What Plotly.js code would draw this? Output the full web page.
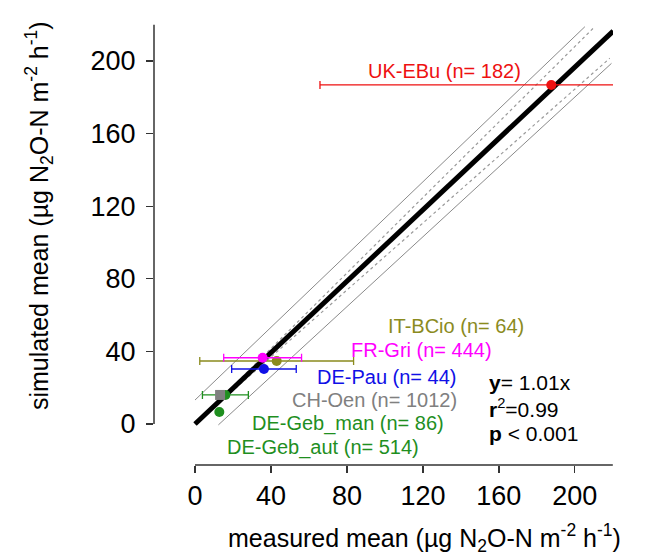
<!DOCTYPE html>
<html>
<head>
<meta charset="utf-8">
<script src="https://cdn.plot.ly/plotly-3.0.1.min.js"></script>
<style>html,body{margin:0;padding:0;background:#fff;}#chart{width:648px;height:558px;}</style>
</head>
<body>
<div id="chart"></div>
<script>
// ---- data ----
const sites      = ["UK-EBu", "IT-BCio", "FR-Gri", "DE-Pau", "CH-Oen", "DE-Geb_man", "DE-Geb_aut"];
const nObs       = [182, 64, 444, 44, 1012, 86, 514];
const measured   = [187.6, 43.0, 35.6, 36.3, 13.2, 16.0, 12.8];
const simulated  = [186.8, 34.7, 36.5, 30.3, 16.0, 16.0, 6.6];
const measuredSD = [121.8, 40.5, 20.5, 17.0, 0, 12.1, 0];
const colors     = ["#ee1111", "#8b8b1e", "#ff00ff", "#1010e6", "#808080", "#1f8f1f", "#1f8f1f"];
const symbols    = ["circle", "circle", "circle", "circle", "square", "circle", "circle"];
// label centres (data units)
const labelX     = [131.6, 137.4, 119.0, 101.0, 94.7, 80.5, 67.4];
const labelY     = [194.5, 54.0, 40.8, 25.9, 13.2, 0.0, -13.2];

// fit line and bands (endpoints)
const fitX   = [0, 220.2];
const fitY   = [0, 216.5];
const upGrayX = [0, 205.3],   upGrayY = [13.2, 218.9];
const loGrayX = [12.3, 219.3], loGrayY = [-0.5, 198.7];
const upDotX  = [0, 210.5],   upDotY  = [0, 218.9];
const loDotX  = [0, 218.4],   loDotY  = [0, 201.5];

const xTicks = [0, 40, 80, 120, 160, 200];
const yTicks = [0, 40, 80, 120, 160, 200];
const statLines = ["<b>y</b>= 1.01x", "<b>r</b><sup>2</sup>=0.99", "<b>p</b> < 0.001"];

const FONT = "Liberation Sans, Arial, sans-serif";
const traces = [];
traces.push({x: upGrayX, y: upGrayY, mode: "lines", line: {color: "#8a8a8a", width: 1}, hoverinfo: "skip"});
traces.push({x: loGrayX, y: loGrayY, mode: "lines", line: {color: "#8a8a8a", width: 1}, hoverinfo: "skip"});
traces.push({x: upDotX, y: upDotY, mode: "lines", line: {color: "#9a9a9a", width: 1.2, dash: "dot"}, hoverinfo: "skip"});
traces.push({x: loDotX, y: loDotY, mode: "lines", line: {color: "#9a9a9a", width: 1.2, dash: "dot"}, hoverinfo: "skip"});
traces.push({x: fitX, y: fitY, mode: "lines", line: {color: "#000", width: 5}, hoverinfo: "skip"});

const order = [0, 1, 2, 3, 5, 4, 6];
order.forEach(i => {
  traces.push({
    x: [measured[i]], y: [simulated[i]], mode: "markers",
    marker: {color: colors[i], size: 10, symbol: symbols[i]},
    error_x: measuredSD[i] > 0 ? {type: "data", array: [measuredSD[i]], visible: true, color: colors[i], thickness: 1.3, width: 4} : {visible: false},
    cliponaxis: true
  });
});

const annotations = sites.map((s, i) => ({
  x: labelX[i], y: labelY[i], xref: "x", yref: "y",
  text: s + " (n= " + nObs[i] + ")", showarrow: false,
  font: {family: FONT, size: 20, color: colors[i]}, xanchor: "center", yanchor: "middle"
}));
const statY = [22.6, 8.8, -5.0];
statLines.forEach((t, i) => annotations.push({
  x: 153.5, y: statY[i], xref: "x", yref: "y", text: t, showarrow: false,
  font: {family: FONT, size: 21, color: "#000"}, xanchor: "left", yanchor: "middle"
}));
annotations.push({
  x: 0.59, y: -0.163, xref: "paper", yref: "paper", showarrow: false,
  text: "measured mean (µg N<sub>2</sub>O-N m<sup>-2</sup> h<sup>-1</sup>)",
  font: {family: FONT, size: 25, color: "#000"}, xanchor: "center", yanchor: "middle"
});
annotations.push({
  x: -0.25, y: 0.56, xref: "paper", yref: "paper", showarrow: false, textangle: -90,
  text: "simulated mean (µg N<sub>2</sub>O-N m<sup>-2</sup> h<sup>-1</sup>)",
  font: {family: FONT, size: 25, color: "#000"}, xanchor: "center", yanchor: "middle"
});

const layout = {
  width: 648, height: 558,
  margin: {l: 154, r: 35, t: 20, b: 93},
  paper_bgcolor: "#fff", plot_bgcolor: "#fff",
  showlegend: false,
  xaxis: {range: [-21.6, 220.1], tickvals: xTicks, ticktext: xTicks.map(String), ticks: "outside", ticklen: 7,
          tickcolor: "#333", tickwidth: 1.3, showgrid: false, zeroline: false, showline: false,
          tickfont: {family: FONT, size: 27, color: "#000"}},
  yaxis: {range: [-22.6, 222.6], tickvals: yTicks, ticktext: yTicks.map(String), ticks: "outside", ticklen: 7,
          tickcolor: "#333", tickwidth: 1.3, showgrid: false, zeroline: false, showline: false,
          ticklabelstandoff: 5,
          tickfont: {family: FONT, size: 27, color: "#000"}},
  shapes: [
    {type: "line", xref: "x", yref: "paper", x0: 0, x1: 220, y0: 0, y1: 0, line: {color: "#333", width: 1.5}},
    {type: "line", xref: "paper", yref: "y", x0: 0, x1: 0, y0: 0, y1: 220, line: {color: "#333", width: 1.5}}
  ],
  annotations: annotations
};
Plotly.newPlot("chart", traces, layout, {staticPlot: true, displayModeBar: false});
</script>
</body>
</html>
